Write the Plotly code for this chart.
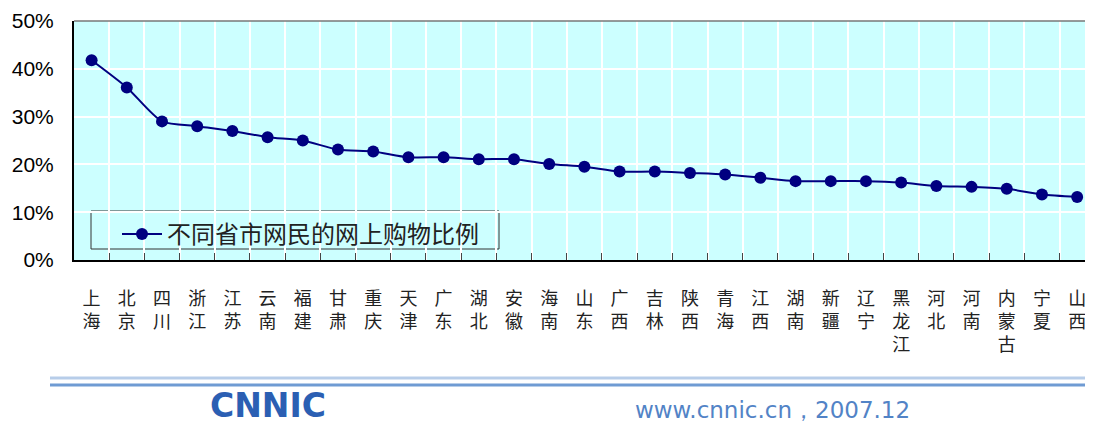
import plotly.graph_objects as go

provinces = ["上海", "北京", "四川", "浙江", "江苏", "云南", "福建", "甘肃", "重庆", "天津",
             "广东", "湖北", "安徽", "海南", "山东", "广西", "吉林", "陕西", "青海", "江西",
             "湖南", "新疆", "辽宁", "黑龙江", "河北", "河南", "内蒙古", "宁夏", "山西"]
shares = [41.8, 36.1, 29.0, 28.0, 27.0, 25.7, 25.0, 23.1, 22.7, 21.5,
          21.5, 21.1, 21.1, 20.1, 19.5, 18.5, 18.5, 18.2, 17.9, 17.2,
          16.5, 16.5, 16.5, 16.2, 15.5, 15.3, 14.9, 13.7, 13.2]
y_ticks = [0, 10, 20, 30, 40, 50]
series_name = "不同省市网民的网上购物比例"
footer_text = "www.cnnic.cn，2007.12"

# vertical labels: one character per line
tick_text = ["<br>".join(list(p)) for p in provinces]

navy = "#000080"
cjk = "Noto Sans CJK SC"

# page body has an 8px default margin, so shrink the canvas to fit the window
OFF = 8
W, H = 1093 - OFF, 427 - OFF
# plot area in window pixels
X0, X1, Y0, Y1 = 74, 1093, 21, 260
L, T, B = X0 - OFF, Y0 - OFF, H - (Y1 - OFF)
pw, ph = W - L, H - T - B


def px(x):
    return (x - X0) / pw


def py(y):
    return (Y1 - y) / ph


fig = go.Figure()
fig.add_trace(
    go.Scatter(
        x=provinces,
        y=shares,
        mode="lines+markers",
        name=series_name,
        line=dict(color=navy, width=2, shape="spline", smoothing=0.7),
        marker=dict(color=navy, size=12),
    )
)

fig.update_layout(
    width=W,
    height=H,
    margin=dict(l=L, r=0, t=T, b=B),
    paper_bgcolor="white",
    plot_bgcolor="#CCFFFF",
    showlegend=True,
    legend=dict(
        x=px(117), y=py(212), xanchor="left", yanchor="top",
        bgcolor="rgba(0,0,0,0)", borderwidth=0,
        font=dict(family=cjk, size=24, color="#222"),
        itemwidth=40,
    ),
    shapes=[
        # legend frame
        dict(type="rect", xref="paper", yref="paper",
             x0=px(91), x1=px(499), y0=py(249), y1=py(211),
             line=dict(color="#333", width=1), fillcolor="#CCFFFF", layer="below"),
        # top border of plot area
        dict(type="line", xref="paper", yref="paper", x0=0, x1=1, y0=1, y1=1,
             line=dict(color="#777", width=1.5)),
        # footer rules
        dict(type="line", xref="paper", yref="paper", x0=px(50), x1=1,
             y0=py(378), y1=py(378), line=dict(color="#b7cde9", width=3)),
        dict(type="line", xref="paper", yref="paper", x0=px(50), x1=1,
             y0=py(385), y1=py(385), line=dict(color="#6f9bd3", width=3)),
    ],
    annotations=[
        dict(text="<b>CNNIC</b>", xref="paper", yref="paper", x=px(268), y=py(427),
             xanchor="center", yanchor="bottom", showarrow=False,
             font=dict(family="DejaVu Sans", size=33, color="#2b5fb3")),
        dict(text=footer_text, xref="paper", yref="paper", x=px(772), y=py(395),
             xanchor="center", yanchor="top", showarrow=False,
             font=dict(family="DejaVu Sans", size=23, color="#5283c6")),
    ],
)

fig.update_xaxes(
    type="category",
    range=[-0.5, len(provinces) - 0.55],
    tickmode="array",
    tickvals=provinces,
    ticktext=tick_text,
    tickson="boundaries",
    ticks="inside",
    ticklen=7,
    tickcolor="#444",
    showgrid=True,
    gridcolor="white",
    gridwidth=2,
    showline=True,
    linecolor="black",
    linewidth=2,
    tickfont=dict(family=cjk, size=18, color="#222"),
    ticklabelstandoff=21,
    automargin=False,
)

fig.update_yaxes(
    range=[0, 50],
    tickvals=y_ticks,
    ticktext=[f"{v}%" for v in y_ticks],
    showgrid=True,
    gridcolor="white",
    gridwidth=2,
    zeroline=False,
    showline=True,
    linecolor="black",
    linewidth=2,
    ticks="",
    tickfont=dict(family="Liberation Sans", size=21, color="black"),
    ticklabelstandoff=14,
    automargin=False,
)

fig.write_html("out.html")
